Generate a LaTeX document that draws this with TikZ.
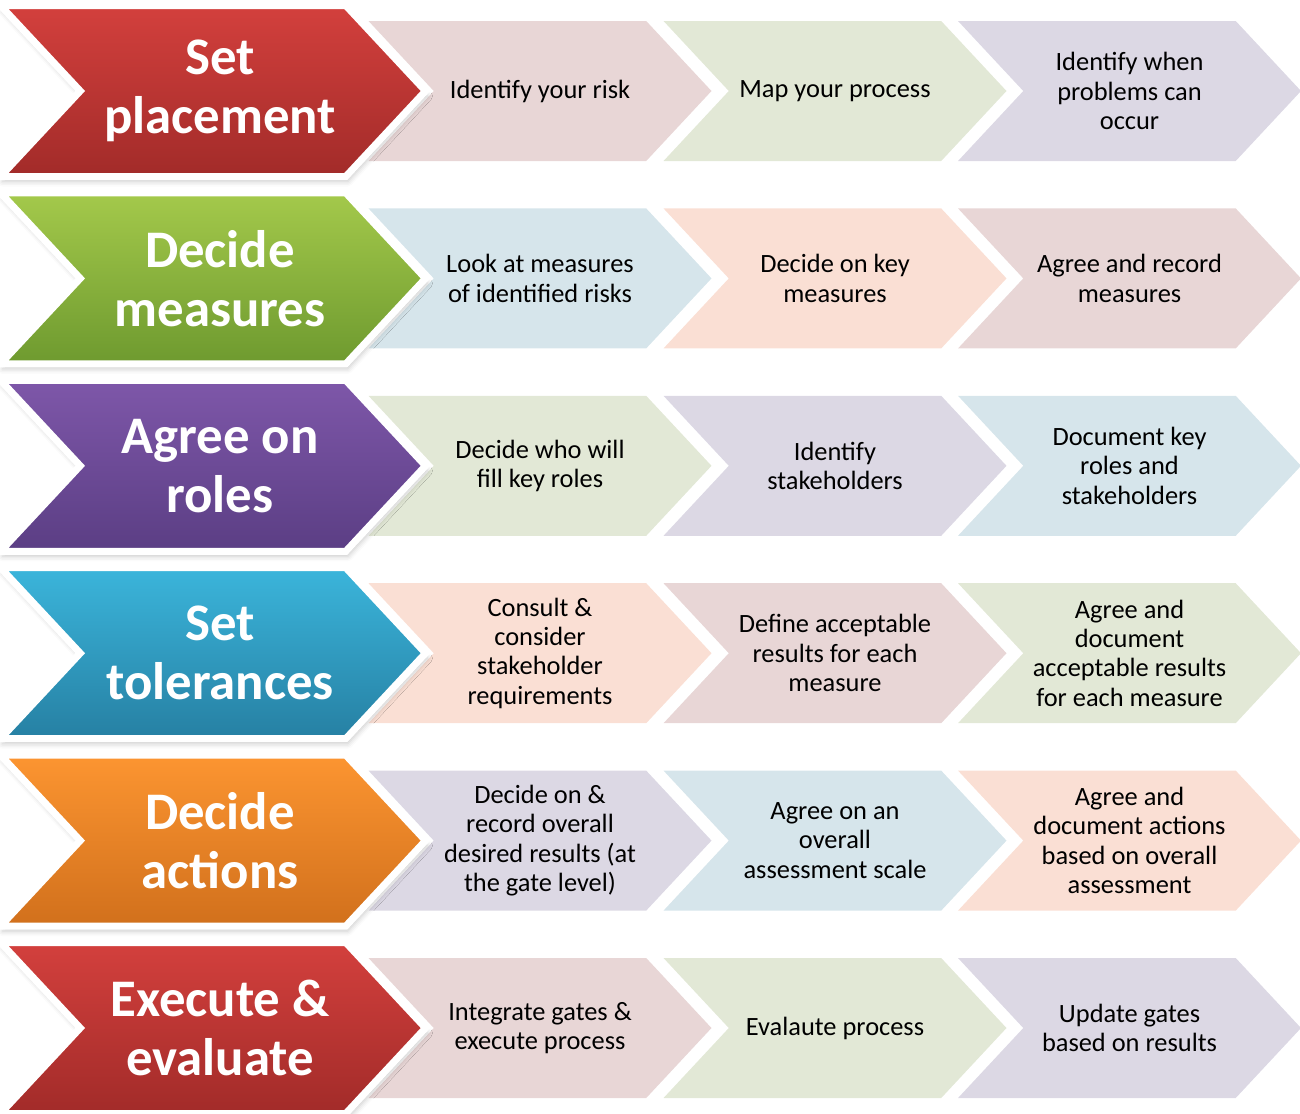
\documentclass[tikz,border=0pt]{standalone}
\usepackage{fontspec}
\setmainfont{Carlito}
\usetikzlibrary{shapes.symbols,shadows.blur}

% phase colours (big chevrons)
\definecolor{redtop}{HTML}{D3403D}
\definecolor{redbot}{HTML}{A22B29}
\definecolor{grntop}{HTML}{A4C94B}
\definecolor{grnbot}{HTML}{6E9A2F}
\definecolor{purtop}{HTML}{7E57A9}
\definecolor{purbot}{HTML}{5B3E84}
\definecolor{cyntop}{HTML}{3BB5DB}
\definecolor{cynbot}{HTML}{2680A3}
\definecolor{orgtop}{HTML}{FC9531}
\definecolor{orgbot}{HTML}{D1701C}
% task tints (small chevrons)
\definecolor{tpink}{HTML}{E8D6D6}
\definecolor{tgreen}{HTML}{E2E8D6}
\definecolor{tlilac}{HTML}{DCD8E4}
\definecolor{tblue}{HTML}{D6E5EB}
\definecolor{tpeach}{HTML}{FADFD4}

\begin{document}
\begin{tikzpicture}[x=1bp, y=-1bp,
  chev/.style={signal, signal to=east, signal from=west, signal pointer angle=94,
    inner sep=0pt, align=center},
  % phase title sits a little right of the shape centre
  ptext/.style={text=white, align=center, inner sep=0pt, xshift=7bp,
    font=\bfseries\fontsize{53}{59}\selectfont},
  phase/.style={chev, minimum width=425bp, minimum height=171bp,
    draw=white, line width=7bp, label={[ptext]center:{#1}},
    blur shadow={shadow xshift=2bp, shadow yshift=-5bp, shadow blur radius=5bp, shadow opacity=22}},
  task/.style={chev, minimum width=343bp, minimum height=140bp,
    font=\fontsize{26.5}{29.5}\selectfont},
  red/.style={phase={#1}, top color=redtop, bottom color=redbot},
  grn/.style={phase={#1}, top color=grntop, bottom color=grnbot},
  pur/.style={phase={#1}, top color=purtop, bottom color=purbot},
  cyn/.style={phase={#1}, top color=cyntop, bottom color=cynbot},
  org/.style={phase={#1}, top color=orgtop, bottom color=orgbot}]
\useasboundingbox (0,0) rectangle (1300,1113);

% row 1
\node[task, fill=tpink]  (place1) at (540,91) {Identify your risk};
\node[task, fill=tgreen] (place2) at (835,91) {Map your process};
\node[task, fill=tlilac] (place3) at (1129.5,91) {Identify when\\problems can\\occur};
% row 2
\node[task, fill=tblue]  (meas1) at (540,278.4) {Look at measures\\of identified risks};
\node[task, fill=tpeach] (meas2) at (835,278.4) {Decide on key\\measures};
\node[task, fill=tpink]  (meas3) at (1129.5,278.4) {Agree and record\\measures};
% row 3
\node[task, fill=tgreen] (role1) at (540,465.8) {Decide who will\\fill key roles};
\node[task, fill=tlilac] (role2) at (835,465.8) {Identify\\stakeholders};
\node[task, fill=tblue]  (role3) at (1129.5,465.8) {Document key\\roles and\\stakeholders};
% row 4
\node[task, fill=tpeach] (tol1) at (540,653.2) {Consult \&\\consider\\stakeholder\\requirements};
\node[task, fill=tpink]  (tol2) at (835,653.2) {Define acceptable\\results for each\\measure};
\node[task, fill=tgreen] (tol3) at (1129.5,653.2) {Agree and\\document\\acceptable results\\for each measure};
% row 5
\node[task, fill=tlilac] (act1) at (540,840.6) {Decide on \&\\record overall\\desired results (at\\the gate level)};
\node[task, fill=tblue]  (act2) at (835,840.6) {Agree on an\\overall\\assessment scale};
\node[task, fill=tpeach] (act3) at (1129.5,840.6) {Agree and\\document actions\\based on overall\\assessment};
% row 6
\node[task, fill=tpink]  (exec1) at (540,1028) {Integrate gates \&\\execute process};
\node[task, fill=tgreen] (exec2) at (835,1028) {Evalaute process};
\node[task, fill=tlilac] (exec3) at (1129.5,1028) {Update gates\\based on results};

% phase chevrons on top
\node[red={Set\\placement}]     (place) at (213,91) {};
\node[grn={Decide\\measures}]   (meas)  at (213,278.4) {};
\node[pur={Agree on\\roles}]    (role)  at (213,465.8) {};
\node[cyn={Set\\tolerances}]    (tol)   at (213,653.2) {};
\node[org={Decide\\actions}]    (act)   at (213,840.6) {};
\node[red={Execute \&\\evaluate}] (exec) at (213,1028) {};
\end{tikzpicture}
\end{document}
